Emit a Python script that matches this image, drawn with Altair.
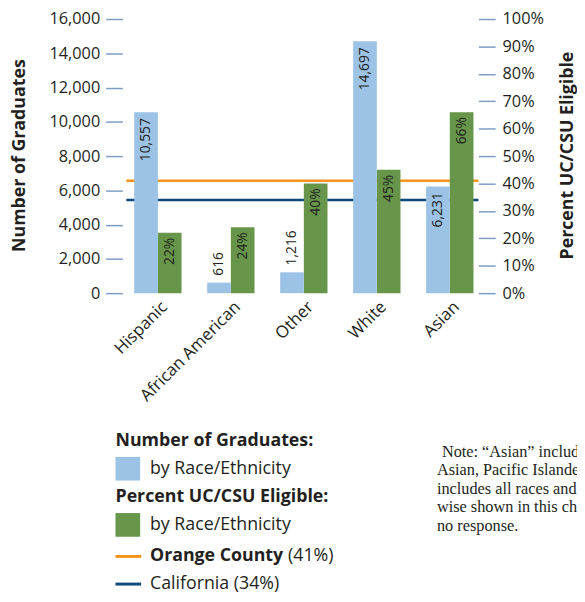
import altair as alt
import pandas as pd

# ---- data ----
races = ["Hispanic", "African American", "Other", "White", "Asian"]
graduates = [10557, 616, 1216, 14697, 6231]
eligible_pct = [22, 24, 40, 45, 66]

ref_names = ["Orange County", "California"]
ref_pct = [41, 34]
ref_colors = ["#f7941d", "#0d4a7c"]

note_lines = [
    "Note: \u201cAsian\u201d includes",
    "Asian, Pacific Islander and Filipino. \u201cOther\u201d",
    "includes all races and ethnicities not other-",
    "wise shown in this chart, including",
    "no response.",
]

BLUE = "#9cc3e6"
GREEN = "#67964a"
TXT = "#231f20"
TICK = "#7f9cc2"
FONT = "Open Sans"

df = pd.DataFrame({"race": races, "graduates": graduates, "pct": eligible_pct})
ref_df = pd.DataFrame({"name": ref_names, "pct": ref_pct, "color": ref_colors})

W, H = 361, 278

x_enc = alt.X(
    "race:N",
    sort=races,
    scale=alt.Scale(paddingInner=0.5, paddingOuter=0.189, align=0.625),
    axis=alt.Axis(
        title=None, labelAngle=-45, labelAlign="right", labelBaseline="middle",
        labelPadding=11, labelOffset=7, ticks=False, domain=False,
        labelFontSize=17, labelColor=TXT, labelFont=FONT,
    ),
)

y_left = alt.Y(
    "graduates:Q",
    scale=alt.Scale(domain=[0, 16000], nice=False),
    axis=alt.Axis(
        orient="left", values=list(range(0, 16001, 2000)),
        labelExpr="format(datum.value, ',')",
        tickSize=17, tickColor=TICK, tickWidth=1.5, labelPadding=6,
        domain=False, grid=False, labelFontSize=16.5, labelColor=TXT, labelFont=FONT,
        title="Number of Graduates", titleFontSize=18, titleFontWeight="bold",
        titleColor=TXT, titleFont=FONT, titleX=-99, titleY=138,
        titleBaseline="alphabetic", titleAngle=270,
    ),
)

y_right = alt.Y(
    "pct:Q",
    scale=alt.Scale(domain=[0, 100], nice=False),
    axis=alt.Axis(
        orient="right", values=list(range(0, 101, 10)), labelExpr="datum.value + '%'",
        tickSize=17, tickColor=TICK, tickWidth=1.5, labelPadding=7,
        domain=False, grid=False, labelFontSize=16.5, labelColor=TXT, labelFont=FONT,
        title="Percent UC/CSU Eligible", titleFontSize=18, titleFontWeight="bold",
        titleColor=TXT, titleFont=FONT, titleX=95, titleY=138,
        titleBaseline="alphabetic", titleAngle=270,
    ),
)

base = alt.Chart(df)

# right-axis group: reference lines (behind bars), green bars, percent labels
rules = alt.Chart(ref_df).mark_rule(strokeWidth=2.6).encode(
    y=y_right,
    x=alt.value(4), x2=alt.value(W),
    color=alt.Color("color:N", scale=None),
)
green_bars = base.mark_bar(width=24, xOffset=12, color=GREEN).encode(x=x_enc, y=y_right)
green_text = base.transform_calculate(lbl="datum.pct + '%'").mark_text(
    angle=270, align="right", baseline="middle", dx=-5, xOffset=12,
    fontSize=14, font=FONT, color=TXT,
).encode(x=x_enc, y=y_right, text="lbl:N")
right_group = alt.layer(rules, green_bars, green_text)

# left-axis group: graduates bars and labels
blue_bars = base.mark_bar(width=24, xOffset=-12, color=BLUE).encode(x=x_enc, y=y_left)
blue_in = base.transform_filter("datum.graduates > 3000").mark_text(
    angle=270, align="right", baseline="middle", dx=-6, xOffset=-12,
    fontSize=14, font=FONT, color=TXT,
).encode(x=x_enc, y=y_left, text=alt.Text("graduates:Q", format=","))
blue_out = base.transform_filter("datum.graduates <= 3000").mark_text(
    angle=270, align="left", baseline="middle", dx=7, xOffset=-12,
    fontSize=14, font=FONT, color=TXT,
).encode(x=x_enc, y=y_left, text=alt.Text("graduates:Q", format=","))
left_group = alt.layer(blue_bars, blue_in, blue_out)


def label(s, x, y, bold=False, size=18):
    return alt.Chart(alt.Data(values=[{"t": s}])).mark_text(
        align="left", baseline="middle", fontSize=size, font=FONT, color=TXT,
        fontWeight="bold" if bold else "normal",
    ).encode(x=alt.value(x), y=alt.value(y), text="t:N")


def swatch(color, y):
    return alt.Chart(alt.Data(values=[{}])).mark_rect(color=color).encode(
        x=alt.value(-7), x2=alt.value(18), y=alt.value(y), y2=alt.value(y + 24)
    )


def line_key(color, y):
    return alt.Chart(alt.Data(values=[{}])).mark_rule(color=color, strokeWidth=3).encode(
        x=alt.value(-7), x2=alt.value(19), y=alt.value(y)
    )


legend = [
    label("Number of Graduates:", -7, 428, bold=True),
    swatch(BLUE, 444),
    label("by Race/Ethnicity", 28, 456),
    label("Percent UC/CSU Eligible:", -7, 485, bold=True),
    swatch(GREEN, 501),
    label("by Race/Ethnicity", 28, 513),
    line_key(ref_colors[0], 545),
    label(ref_names[0], 28, 545, bold=True),
    label(f"({ref_pct[0]}%)", 168, 545),
    line_key(ref_colors[1], 573),
    label(f"{ref_names[1]} ({ref_pct[1]}%)", 28, 573),
]

note_df = pd.DataFrame({"t": note_lines, "i": list(range(len(note_lines)))})
note = alt.Chart(note_df).transform_calculate(
    ny="439 + datum.i * 18.8", nx="datum.i == 0 ? 324 : 319"
).mark_text(
    align="left", baseline="middle", fontSize=16.5, font="Liberation Serif", color=TXT,
).encode(
    x=alt.X("nx:Q", scale=None), y=alt.Y("ny:Q", scale=None), text="t:N"
)

chart = (
    alt.layer(right_group, left_group, *legend, note)
    .resolve_scale(y="independent")
    .properties(
        width=W, height=H, autosize="none",
        padding={"left": 116, "top": 7, "right": 100, "bottom": 309},
    )
    .configure_view(stroke=None)
)

chart.save("out.html", embed_options={"renderer": "svg", "actions": False})
